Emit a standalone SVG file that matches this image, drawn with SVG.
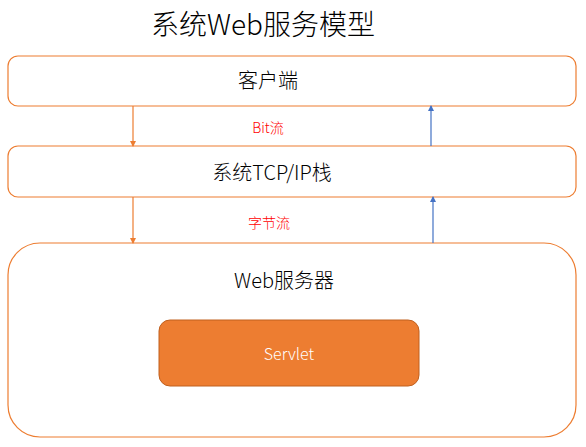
<svg xmlns="http://www.w3.org/2000/svg" width="586" height="447" viewBox="0 0 586 447">
<defs>
<style>
text{font-family:"Noto Sans CJK SC","Noto Sans",sans-serif;text-anchor:middle;font-weight:300}
.box{fill:#fff;stroke:#ED7D31;stroke-width:1.2}
.lbl{font-size:20px;fill:#000}
.red{font-size:14px;fill:#FF0000}
.down{stroke:#ED7D31;stroke-width:1.2;fill:none}
.up{stroke:#4472C4;stroke-width:1.2;fill:none}
</style>
<marker id="ao" markerWidth="6" markerHeight="6" refX="5" refY="3" orient="auto" markerUnits="userSpaceOnUse"><path d="M0,0 L6,3 L0,6 z" fill="#ED7D31"/></marker>
<marker id="ab" markerWidth="6" markerHeight="6" refX="5" refY="3" orient="auto" markerUnits="userSpaceOnUse"><path d="M0,0 L6,3 L0,6 z" fill="#4472C4"/></marker>
</defs>
<rect width="586" height="447" fill="#fff"/>
<text x="263" y="35" style="font-size:28px;fill:#000">系统Web服务模型</text>
<g id="client"><rect class="box" x="8" y="56" width="568" height="50" rx="10"/><text class="lbl" x="268" y="88">客户端</text></g>
<g id="tcpip"><rect class="box" x="8" y="146" width="568" height="51" rx="10"/><text class="lbl" x="272" y="180">系统TCP/IP栈</text></g>
<g id="webserver"><rect class="box" x="8" y="243" width="568" height="194" rx="32"/><text class="lbl" x="284" y="288">Web服务器</text></g>
<g id="servlet"><rect x="159" y="320" width="260" height="66" rx="11" fill="#ED7D31" stroke="#C0601F" stroke-width="1"/><text x="289" y="360" style="font-size:16px;fill:#fff">Servlet</text></g>
<g id="connectors">
<line class="down" x1="133" y1="106" x2="133" y2="146" marker-end="url(#ao)"/>
<line class="up" x1="431" y1="146" x2="431" y2="106" marker-end="url(#ab)"/>
<line class="down" x1="133" y1="197" x2="133" y2="243" marker-end="url(#ao)"/>
<line class="up" x1="433" y1="243" x2="433" y2="197" marker-end="url(#ab)"/>
<text class="red" x="268" y="133">Bit流</text>
<text class="red" x="269" y="228">字节流</text>
</g>
</svg>
